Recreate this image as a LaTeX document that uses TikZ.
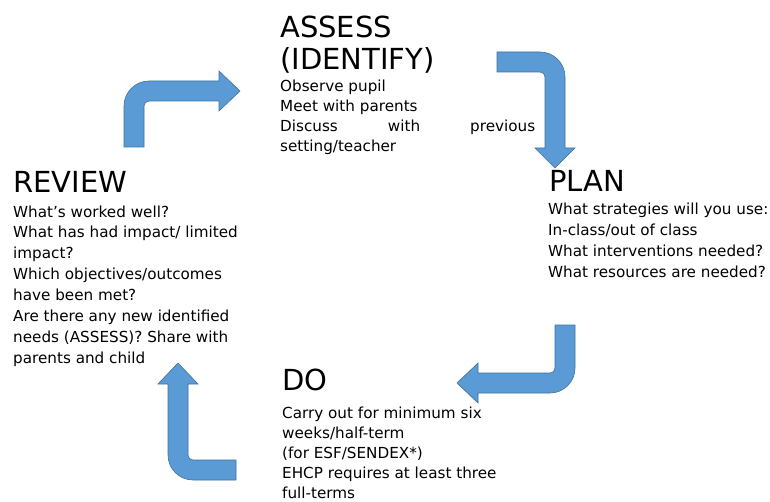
\documentclass[tikz,border=0pt]{standalone}
\usepackage{fontspec}
\setmainfont{DejaVu Sans}
\definecolor{arrfill}{RGB}{91,155,213}
\definecolor{arrline}{RGB}{65,113,156}
\begin{document}
\begin{tikzpicture}[x=1pt,y=-1pt,
  blockarrow/.style={fill=arrfill,draw=arrline,line width=0.6pt,line join=miter},
  headtext/.style={anchor=base west,inner sep=0pt,align=left,font={\fontsize{29}{32}\selectfont}},
  bodytext/.style={anchor=base west,inner sep=0pt,align=left,font={\fontsize{15.2}{#1}\selectfont}},
  bodytext/.default=20.5]
\useasboundingbox[fill=white] (0,0) rectangle (770,502);

% headings (anchor = baseline of last line)
\node[headtext] (assessH) at (280,70) {ASSESS\\(IDENTIFY)};
\node[headtext] (reviewH) at (13,193) {REVIEW};
\node[headtext] (planH) at (549,192) {PLAN};
\node[headtext] (doH) at (282,390) {DO};

% bodies (anchor = baseline of last line)
\node[bodytext=20] (assessB) at (280,152)
  {Observe pupil\\Meet with parents\\\makebox[255pt][s]{Discuss\hfill with\hfill previous}\\setting/teacher};
\node[bodytext=20.85] (reviewB) at (13,363)
  {What's worked well?\\What has had impact/ limited\\impact?\\Which objectives/outcomes\\have been met?\\Are there any new identified\\needs (ASSESS)? Share with\\parents and child};
\node[bodytext=20.7] (planB) at (548,277)
  {What strategies will you use:\\In-class/out of class\\What interventions needed?\\What resources are needed?};
\node[bodytext=20] (doB) at (282,498)
  {Carry out for minimum six\\weeks/half-term\\(for ESF/SENDEX*)\\EHCP requires at least three\\full-terms};

% block arrows
% review -> assess
\draw[blockarrow] (124,147) -- (124,106) .. controls (124,92.2) and (135.2,81) .. (149,81)
  -- (219,81) -- (219,71) -- (240,91) -- (219,111) -- (219,101) -- (149,101)
  .. controls (146.2,101) and (144,103.2) .. (144,106) -- (144,147) -- cycle;
% assess -> plan
\draw[blockarrow] (497,52) -- (540,52) .. controls (553.8,52) and (565,63.2) .. (565,77)
  -- (565,148) -- (575,148) -- (555,168) -- (535,148) -- (545,148) -- (545,77)
  .. controls (545,74.2) and (542.8,72) .. (540,72) -- (497,72) -- cycle;
% plan -> do
\draw[blockarrow] (555,325) -- (575,325) -- (575,368) .. controls (575,381.8) and (563.8,393) .. (550,393)
  -- (478,393) -- (478,403) -- (457,383) -- (478,363) -- (478,373) -- (550,373)
  .. controls (552.8,373) and (555,370.8) .. (555,368) -- cycle;
% do -> review
\draw[blockarrow] (236,460) -- (236,480) -- (193,480) .. controls (179.2,480) and (168,468.8) .. (168,455)
  -- (168,384) -- (158,384) -- (178,363) -- (198,384) -- (188,384) -- (188,455)
  .. controls (188,457.8) and (190.2,460) .. (193,460) -- cycle;
\end{tikzpicture}
\end{document}
